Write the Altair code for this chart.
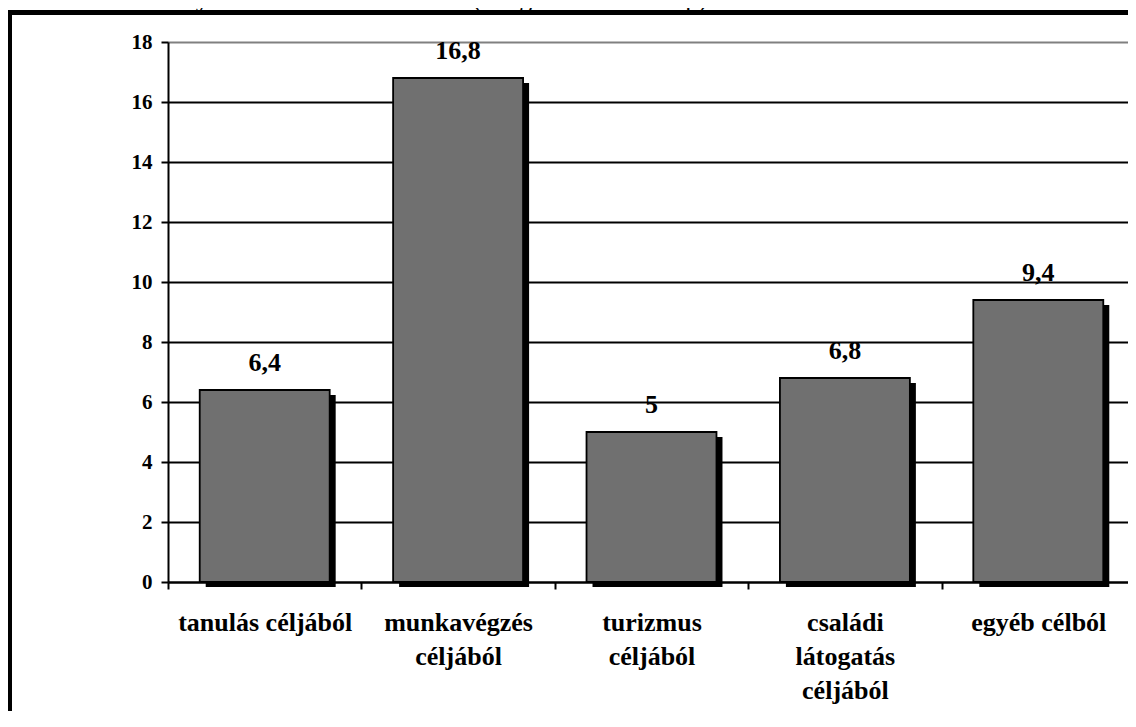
import altair as alt
import pandas as pd

categories = ["tanulás céljából", "munkavégzés|céljából", "turizmus|céljából",
              "családi|látogatás|céljából", "egyéb célból"]
values = [6.4, 16.8, 5.0, 6.8, 9.4]
y_ticks = [0, 2, 4, 6, 8, 10, 12, 14, 16, 18]
title_bold = "115. ábra: Mennyi időt töltött külföldön?"
title_normal = "(átlagértékek – hónap)"

df = pd.DataFrame({"cat": categories, "value": values})
FONT = "'Times New Roman', 'Liberation Serif', serif"
BAND = 0.672

x_enc = alt.X("cat:N", sort=categories, title=None,
              scale=alt.Scale(paddingInner=0, paddingOuter=0),
              axis=alt.Axis(labelExpr="split(datum.label, '|')", labelAngle=0,
                            labelFontSize=26, labelFontWeight="bold", labelFont=FONT,
                            labelLineHeight=34, labelBaseline="alphabetic",
                            labelPadding=41, labelLimit=0, labelBound=False,
                            tickBand="extent", tickSize=7, tickWidth=2, tickColor="black",
                            domainColor="black", domainWidth=2, grid=False,
                            labelColor="black"))
y_enc = alt.Y("value:Q", title=None,
              scale=alt.Scale(domain=[0, 18], nice=False),
              axis=alt.Axis(values=y_ticks, labelFontSize=21, labelFontWeight="bold",
                            labelFont=FONT, labelPadding=9, labelColor="black",
                            tickSize=7, tickWidth=2, tickColor="black",
                            domainColor="black", domainWidth=2,
                            grid=True, gridWidth=2,
                            gridColor=alt.condition("datum.value == 18",
                                                    alt.value("#808080"),
                                                    alt.value("black"))))

base = alt.Chart(df)

shadow = base.mark_bar(color="black", xOffset=6, yOffset=5,
                       width=alt.RelativeBandSize(BAND)).encode(x=x_enc, y=y_enc)
bars = base.mark_bar(color="#707070", stroke="black", strokeWidth=1.8,
                     width=alt.RelativeBandSize(BAND)).encode(x=x_enc, y=y_enc)
labels = base.transform_calculate(
    lbl="replace(toString(datum.value), '.', ',')"
).mark_text(font=FONT, fontSize=26, fontWeight="bold", baseline="alphabetic",
            dy=-19, color="black").encode(x=x_enc, y=y_enc, text="lbl:N")

one = pd.DataFrame({"a": [0]})
frame = alt.Chart(one).mark_rect(fill=None, fillOpacity=0, stroke="black", strokeWidth=5).encode(
    x=alt.value(-158.5), x2=alt.value(980), y=alt.value(-29.5), y2=alt.value(700))
t1 = alt.Chart(one).mark_text(font=FONT, fontSize=26, fontWeight="bold", align="left",
                              baseline="alphabetic", color="black").encode(
    x=alt.value(-155), y=alt.value(-35), text=alt.value(title_bold))
t2 = alt.Chart(one).mark_text(font=FONT, fontSize=26, align="left",
                              baseline="alphabetic", color="black").encode(
    x=alt.value(305), y=alt.value(-35), text=alt.value(title_normal))

chart = alt.layer(shadow, bars, labels, frame, t1, t2).properties(
    width=967, height=540,
    autosize=alt.AutoSizeParams(type="none"),
    padding={"left": 160, "top": 34, "right": -7, "bottom": 129},
).configure_view(stroke="#808080", strokeWidth=2).configure(background="white")

chart.save("out.html", embed_options={"renderer": "svg", "actions": False})
